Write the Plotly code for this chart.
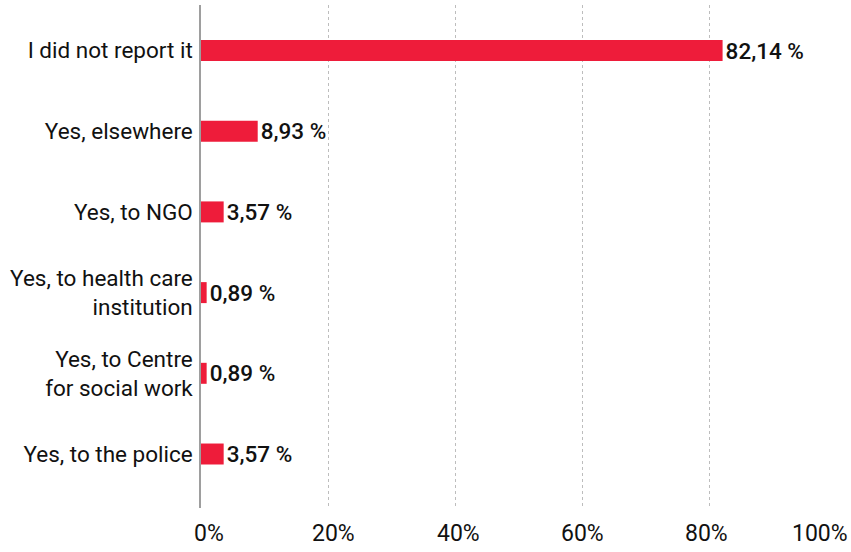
import plotly.graph_objects as go

# Reporting channels, bottom to top as drawn
categories = [
    "Yes, to the police",
    "Yes, to Centre<br>for social work",
    "Yes, to health care<br>institution",
    "Yes, to NGO",
    "Yes, elsewhere",
    "I did not report it",
]
shares = [3.57, 0.89, 0.89, 3.57, 8.93, 82.14]

tick_values = [0, 20, 40, 60, 80, 100]
tick_labels = ["0%", "20%", "40%", "60%", "80%", "100%"]
tick_label_shift = [8, 5, 3, 0, -3, -16]

FONT = "Roboto"
BAR_RED = "#EE1C3A"

fig = go.Figure(
    go.Bar(
        x=shares,
        y=categories,
        orientation="h",
        marker=dict(color=BAR_RED, line=dict(width=0)),
        width=0.26,
        texttemplate="%{x:.2f} %",
        textposition="outside",
        constraintext="none",
        textfont=dict(family=FONT, size=22.5, color="#111111", weight=500),
        cliponaxis=False,
        hoverinfo="skip",
    )
)

# x tick labels drawn as annotations so the last one stays inside the page
annotations = []
for v, lab, sh in zip(tick_values, tick_labels, tick_label_shift):
    annotations.append(
        dict(
            x=v, y=0, xref="x", yref="paper",
            text=lab, showarrow=False,
            xanchor="center", yanchor="top",
            xshift=sh, yshift=-10,
            font=dict(family=FONT, size=23, color="#111111"),
        )
    )

fig.update_layout(
    width=851,
    height=552,
    margin=dict(l=201, r=15, t=5, b=44),
    paper_bgcolor="white",
    plot_bgcolor="white",
    separators=", ",
    showlegend=False,
    annotations=annotations,
    xaxis=dict(
        range=[0, 100],
        tickvals=tick_values,
        showticklabels=False,
        showgrid=True,
        gridcolor="#bdbdbd",
        griddash="dot",
        gridwidth=1,
        zeroline=False,
        showline=False,
        ticks="",
    ),
    yaxis=dict(
        type="category",
        categoryorder="array",
        categoryarray=categories,
        range=[-0.669, 5.564],
        showgrid=False,
        zeroline=False,
        showline=True,
        linecolor="#9e9e9e",
        linewidth=1.5,
        ticks="",
        ticklabelstandoff=2,
        tickfont=dict(family=FONT, size=22.5, color="#111111"),
    ),
)

fig.write_html("out.html")
